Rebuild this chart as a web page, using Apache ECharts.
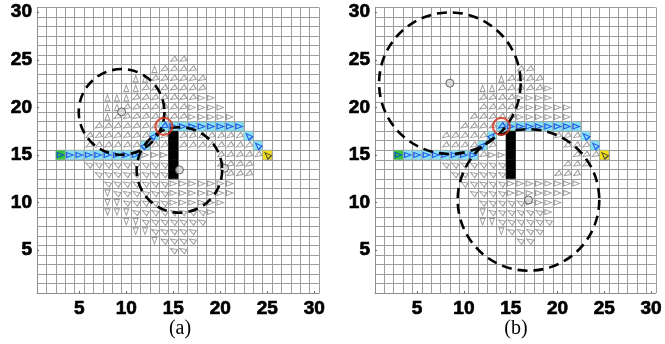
<!DOCTYPE html>
<html><head><meta charset="utf-8">
<script src="https://cdn.jsdelivr.net/npm/echarts@6/dist/echarts.min.js"></script>
<style>html,body{margin:0;padding:0;background:#fff}#c{width:665px;height:344px}</style>
</head><body><div id="c"></div>
<script>
// Axis tick labels (both panels, both axes)
const tickLabels = [5, 10, 15, 20, 25, 30];

// Policy arrows as runs: [row y, direction, first x, last x]
// u = up, v = down, k = left/down-left, l = left/up-left, r = right
const arrowRunsA = [
  [25,'k',15,16],
  [24,'u',13,13],[24,'k',14,17],
  [23,'u',11,12],[23,'k',13,18],
  [22,'u',10,11],[22,'k',12,18],
  [21,'u',8,10],[21,'k',11,17],[21,'r',18,19],
  [20,'u',8,9],[20,'k',10,16],[20,'r',17,20],
  [19,'u',8,8],[19,'k',9,16],[19,'r',17,21],
  [18,'k',7,13],
  [17,'k',6,12],[17,'k',14,14],[17,'k',16,22],
  [16,'k',6,11],[16,'k',13,14],[16,'k',16,23],
  [15,'r',12,14],[15,'k',20,24],
  [14,'l',6,14],[14,'k',20,23],
  [13,'l',7,14],[13,'k',21,23],
  [12,'l',8,14],[12,'r',15,21],
  [11,'v',8,8],[11,'l',9,14],[11,'r',15,21],
  [10,'v',8,9],[10,'l',10,14],[10,'r',15,20],
  [9,'v',8,10],[9,'l',11,18],[9,'r',19,19],
  [8,'v',10,11],[8,'l',12,18],
  [7,'v',11,12],[7,'l',13,17],
  [6,'v',13,13],[6,'l',14,17],
  [5,'l',15,16]
];
const arrowRunsB = [
  [24,'k',16,17],
  [23,'u',14,14],[23,'k',15,18],
  [22,'u',12,13],[22,'k',14,18],[22,'r',19,19],
  [21,'k',12,15],[21,'r',16,19],
  [20,'k',12,15],[20,'r',16,21],
  [19,'k',11,15],[19,'r',16,21],
  [18,'k',10,13],
  [17,'k',8,12],[17,'k',20,22],
  [16,'k',8,11],[16,'k',13,13],[16,'k',21,23],
  [15,'k',12,12],[15,'r',13,14],[15,'k',22,24],
  [14,'l',8,14],[14,'k',21,23],
  [13,'l',9,14],[13,'k',20,22],
  [12,'l',10,14],[12,'r',15,22],
  [11,'l',11,14],[11,'r',15,21],
  [10,'l',12,16],[10,'r',17,20],
  [9,'v',12,12],[9,'l',13,18],[9,'r',19,19],
  [8,'v',12,13],[8,'l',14,19],
  [7,'v',14,14],[7,'l',15,18],
  [6,'l',16,17]
];

// Planned route (same in both panels)
const startCell = [3, 15];
const goalCell = [25, 15];
const pathX   = [4,5,6,7,8,9,10,11,12,13,14,15,16,17,18,19,20,21,22,23,24];
const pathY   = [15,15,15,15,15,15,15,15,16,17,18,18,18,18,18,18,18,18,18,17,16];
const pathDir = ['r','r','r','r','r','r','r','r','e','e','k','r','r','r','r','r','r','r','r','n','n'];

// Obstacle: column x, from y0 to y1
const obstacle = {x: 15, y0: 13, y1: 17};

// Current robot position
const robot = [14, 18];

// Sensing circles [cx, cy, radius] and their centre markers
const circlesA = [[9.5, 19.53, 4.53], [15.65, 13.43, 4.52]];
const circlesB = [[8.5, 22.55, 7.5], [16.9, 10.28, 7.5]];
const dotsA = [[9.5, 19.53], [15.65, 13.43], [20.45, 13.6]];
const dotsB = [[8.5, 22.55], [16.9, 10.28]];

const rot = {u: 0, v: 180, k: 120, l: 60, r: -90, e: -45, n: 45};

function arrowData(runs) {
  const out = [];
  runs.forEach(([y, d, x0, x1]) => {
    for (let x = x0; x <= x1; x++) out.push({value: [x, y], symbolRotate: rot[d]});
  });
  return out;
}
const pathArrows = pathX.map((x, i) => ({value: [x, pathY[i]], symbolRotate: rot[pathDir[i]]}));
pathArrows.unshift({value: startCell.slice(), symbolRotate: rot.r});

const cellFill = {path: '#86e4f6', start: '#2fc83a', goal: '#f3e21c', wall: '#000000'};
function cellData() {
  const out = [];
  pathX.forEach((x, i) => out.push([x, pathY[i], 'path']));
  out.push([startCell[0], startCell[1], 'start']);
  out.push([goalCell[0], goalCell[1], 'goal']);
  for (let y = obstacle.y0; y <= obstacle.y1; y++) out.push([obstacle.x, y, 'wall']);
  return out;
}
const cells = cellData();

const grids = [
  {left: 37, top: 7.5, width: 282, height: 285.5},
  {left: 375, top: 7.5, width: 284, height: 285.5}
];
const labelFont = {
  fontFamily: 'Arial, "Liberation Sans", sans-serif', fontWeight: 'bold', fontSize: 19, color: '#000',
  textBorderColor: '#000', textBorderWidth: 0.7
};

const xAxis = [], yAxis = [];
grids.forEach((g, gi) => {
  // cell boundary lines (boundary coordinate = cell index)
  xAxis.push({gridIndex: gi, type: 'value', min: 0, max: 30, interval: 1, position: 'bottom',
    axisLabel: {show: false}, axisTick: {show: false},
    axisLine: {show: true, lineStyle: {color: '#8e8e8e', width: 1}},
    splitLine: {show: true, lineStyle: {color: '#9c9c9c', width: 1}}});
  yAxis.push({gridIndex: gi, type: 'value', min: 0, max: 30, interval: 1, position: 'left',
    axisLabel: {show: false}, axisTick: {show: false},
    axisLine: {show: true, lineStyle: {color: '#8e8e8e', width: 1}},
    splitLine: {show: true, lineStyle: {color: '#9c9c9c', width: 1}}});
  // data axes: cell centres at integers
  xAxis.push({gridIndex: gi, type: 'value', min: 0.5, max: 30.5, position: 'bottom',
    axisLabel: Object.assign({customValues: tickLabels, margin: 6}, labelFont),
    axisTick: {customValues: tickLabels, inside: true, length: 2, lineStyle: {color: '#666'}},
    axisLine: {show: false}, splitLine: {show: false}});
  yAxis.push({gridIndex: gi, type: 'value', min: 0.5, max: 30.5, position: 'left',
    axisLabel: Object.assign({customValues: tickLabels, margin: 5}, labelFont),
    axisTick: {customValues: tickLabels, inside: true, length: 2, lineStyle: {color: '#666'}},
    axisLine: {show: false}, splitLine: {show: false}});
});

const series = [];
[[arrowRunsA, circlesA, dotsA], [arrowRunsB, circlesB, dotsB]].forEach(([runs, circles, dots], gi) => {
  const ax = {xAxisIndex: gi * 2 + 1, yAxisIndex: gi * 2 + 1};
  series.push(Object.assign({
    type: 'custom', z: 2, data: cells, silent: true,
    renderItem(params, api) {
      const p = api.coord([api.value(0) - 0.5, api.value(1) + 0.5]);
      const s = api.size([1, 1]);
      const kind = cells[params.dataIndex][2];
      return {type: 'rect', shape: {x: p[0], y: p[1], width: s[0], height: s[1]},
        style: {fill: cellFill[kind], stroke: kind === 'wall' ? '#000' : '#9c9c9c', lineWidth: 0.6}};
    }
  }, ax));
  series.push(Object.assign({
    type: 'scatter', z: 3, silent: true, symbol: 'triangle', symbolSize: [5, 6.5],
    itemStyle: {color: 'rgba(255,255,255,0)', borderColor: '#858585', borderWidth: 1},
    data: arrowData(runs)
  }, ax));
  series.push(Object.assign({
    type: 'scatter', z: 4, silent: true, symbol: 'triangle', symbolSize: [5, 6.5],
    itemStyle: {color: 'rgba(255,255,255,0)', borderColor: '#1238e6', borderWidth: 1.2},
    data: pathArrows
  }, ax));
  series.push(Object.assign({
    type: 'scatter', z: 4, silent: true, symbol: 'triangle', symbolSize: [5, 6.5],
    itemStyle: {color: 'rgba(255,255,255,0)', borderColor: '#333', borderWidth: 1.2},
    data: [{value: goalCell.slice(), symbolRotate: rot.n}]
  }, ax));
  series.push(Object.assign({
    type: 'scatter', z: 5, silent: true, symbol: 'circle', symbolSize: 8,
    itemStyle: {color: '#d8d8d8', borderColor: '#444', borderWidth: 1},
    data: dots
  }, ax));
  series.push(Object.assign({
    type: 'custom', z: 6, silent: true, clip: false, data: circles,
    renderItem(params, api) {
      const c = api.coord([api.value(0), api.value(1)]);
      const s = api.size([api.value(2), api.value(2)]);
      return {type: 'circle', shape: {cx: c[0], cy: c[1], r: (s[0] + s[1]) / 2},
        style: {fill: 'none', stroke: '#000', lineWidth: 2.6, lineDash: [10, 6]}};
    }
  }, ax));
  series.push(Object.assign({
    type: 'scatter', z: 7, silent: true, symbol: 'circle', symbolSize: 17,
    itemStyle: {color: 'rgba(255,255,255,0)', borderColor: '#d8361c', borderWidth: 2.2},
    data: [robot]
  }, ax));
});

const chart = echarts.init(document.getElementById('c'), null, {renderer: 'canvas'});
chart.setOption({
  animation: false,
  backgroundColor: '#fff',
  grid: grids,
  xAxis, yAxis, series,
  graphic: [
    {type: 'text', x: 180, y: 329, style: {text: '(a)', font: '20px "Liberation Serif", "Times New Roman", serif', fill: '#000', align: 'center', verticalAlign: 'middle'}},
    {type: 'text', x: 516, y: 329, style: {text: '(b)', font: '20px "Liberation Serif", "Times New Roman", serif', fill: '#000', align: 'center', verticalAlign: 'middle'}}
  ]
});
</script></body></html>
